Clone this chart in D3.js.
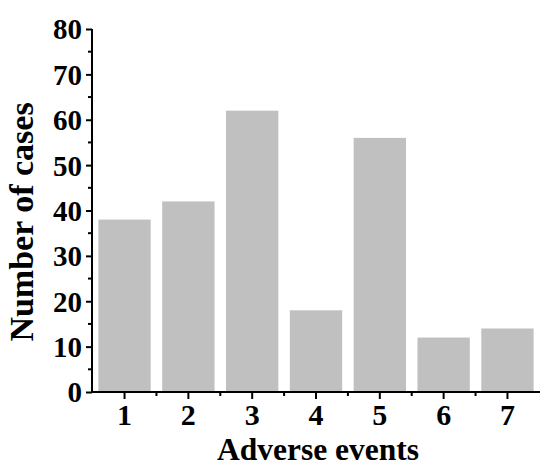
<!DOCTYPE html>
<html><head><meta charset="utf-8">
<script src="https://cdn.jsdelivr.net/npm/d3@7"></script>
<style>body{margin:0;background:#fff}svg{display:block}</style>
</head><body>
<svg id="c" width="540" height="467"></svg>
<script>
const categories = ["1","2","3","4","5","6","7"];
const values = [38, 42, 62, 18, 56, 12, 14];
const yTicks = [0,10,20,30,40,50,60,70,80];
const yMinorTicks = [5,15,25,35,45,55,65,75];

(function(){
const svg = d3.select("#c");
const mLeft = 92, mRight = 540, mTop = 29, mBottom = 392;
const font = "'Liberation Serif','Times New Roman',serif";

const x = d3.scaleBand().domain(categories).range([mLeft, mRight]).paddingInner(0.18).paddingOuter(0.1);
const y = d3.scaleLinear().domain([0, 80]).range([mBottom, mTop]);

svg.selectAll("rect.bar").data(values).join("rect")
  .attr("class","bar")
  .attr("x",(d,i)=>x(categories[i]))
  .attr("width",x.bandwidth())
  .attr("y",d=>y(d))
  .attr("height",d=>y(0)-y(d))
  .attr("fill","#c0c0c0");

// Y axis
const ya = svg.append("g").attr("transform",`translate(${mLeft},0)`)
  .call(d3.axisLeft(y).tickValues(yTicks).tickSize(6).tickPadding(4).tickFormat(d3.format("d")));
ya.select(".domain").attr("stroke","#000").attr("stroke-width",2).attr("d",`M0,${mTop}V${mBottom}`);
ya.selectAll(".tick line").attr("stroke-width",2);
ya.selectAll(".tick text").attr("font-family",font).attr("font-weight","bold").attr("font-size",29).attr("fill","#000").attr("dy","0.34em");
svg.append("g").attr("transform",`translate(${mLeft},0)`)
  .selectAll("line").data(yMinorTicks).join("line")
  .attr("x1",-4).attr("x2",0).attr("y1",d=>y(d)).attr("y2",d=>y(d))
  .attr("stroke","#000").attr("stroke-width",2);

// X axis
const xa = svg.append("g").attr("transform",`translate(0,${mBottom})`)
  .call(d3.axisBottom(x).tickSize(7).tickPadding(5));
xa.select(".domain").attr("stroke","#000").attr("stroke-width",2).attr("d",`M${mLeft},0H${mRight}`);
xa.selectAll(".tick line").attr("stroke-width",2);
xa.selectAll(".tick text").attr("font-family",font).attr("font-weight","bold").attr("font-size",30).attr("fill","#000");
const step = x.step();
const bounds = categories.slice(0,-1).map(c=>x(c)+x.bandwidth()+(step-x.bandwidth())/2);
svg.append("g").attr("transform",`translate(0,${mBottom})`)
  .selectAll("line").data(bounds).join("line")
  .attr("x1",d=>d).attr("x2",d=>d).attr("y1",0).attr("y2",4)
  .attr("stroke","#000").attr("stroke-width",2);

// Labels
svg.append("text").attr("x",318).attr("y",460)
  .attr("text-anchor","middle").attr("font-family",font).attr("font-weight","bold").attr("font-size",31.5)
  .text("Adverse events");
svg.append("text").attr("transform",`translate(33,222) rotate(-90)`)
  .attr("text-anchor","middle").attr("font-family",font).attr("font-weight","bold").attr("font-size",34)
  .text("Number of cases");
})();
</script>
</body></html>
